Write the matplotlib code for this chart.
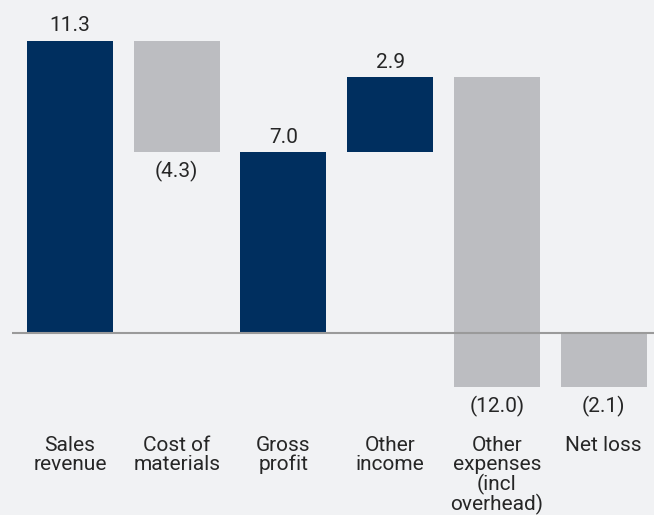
import matplotlib.pyplot as plt

categories = ["Sales\nrevenue", "Cost of\nmaterials", "Gross\nprofit",
              "Other\nincome", "Other\nexpenses\n(incl\noverhead)", "Net loss"]
values = [11.3, -4.3, 7.0, 2.9, -12.0, -2.1]
is_total = [True, False, True, False, False, True]

NAVY = "#002f5f"
GREY = "#bcbdc1"
BG = "#f1f2f4"
TEXT = "#262626"

plt.rcParams['font.family'] = ['Roboto', 'DejaVu Sans']

fig = plt.figure(figsize=(6.54, 5.15), dpi=100, facecolor=BG)
ax = fig.add_axes([12 / 654, 0, 642 / 654, 1])
ax.set_facecolor(BG)

# waterfall bottoms
bottoms = []
running = 0.0
for v, tot in zip(values, is_total):
    if tot:
        bottoms.append(0.0)
        running = v
    else:
        bottoms.append(running)
        running += v

colors = [NAVY if v > 0 else GREY for v in values]
x = list(range(len(values)))
ax.bar(x, values, bottom=bottoms, width=0.806, color=colors, zorder=2)

ax.axhline(0, color="#9a9a9a", lw=1.5, zorder=3)

for i, (v, b) in enumerate(zip(values, bottoms)):
    if v > 0:
        ax.annotate(f"{v:.1f}", (i, b + v), xytext=(0, 4), textcoords="offset points",
                    ha="center", va="bottom", fontsize=15, color=TEXT)
    else:
        ax.annotate(f"({-v:.1f})", (i, b + v), xytext=(0, -6), textcoords="offset points",
                    ha="center", va="top", fontsize=15, color=TEXT)

for i, c in enumerate(categories):
    ax.text(i, 0.153, c, transform=ax.get_xaxis_transform(), ha="center", va="top",
            fontsize=15, color=TEXT, linespacing=0.98)

ax.set_xlim(-0.5436, 5.473)
ax.set_ylim(-(515 - 333) / 25.84, 333 / 25.84)
ax.axis("off")

fig.savefig("out.png", dpi=100, facecolor=BG)
